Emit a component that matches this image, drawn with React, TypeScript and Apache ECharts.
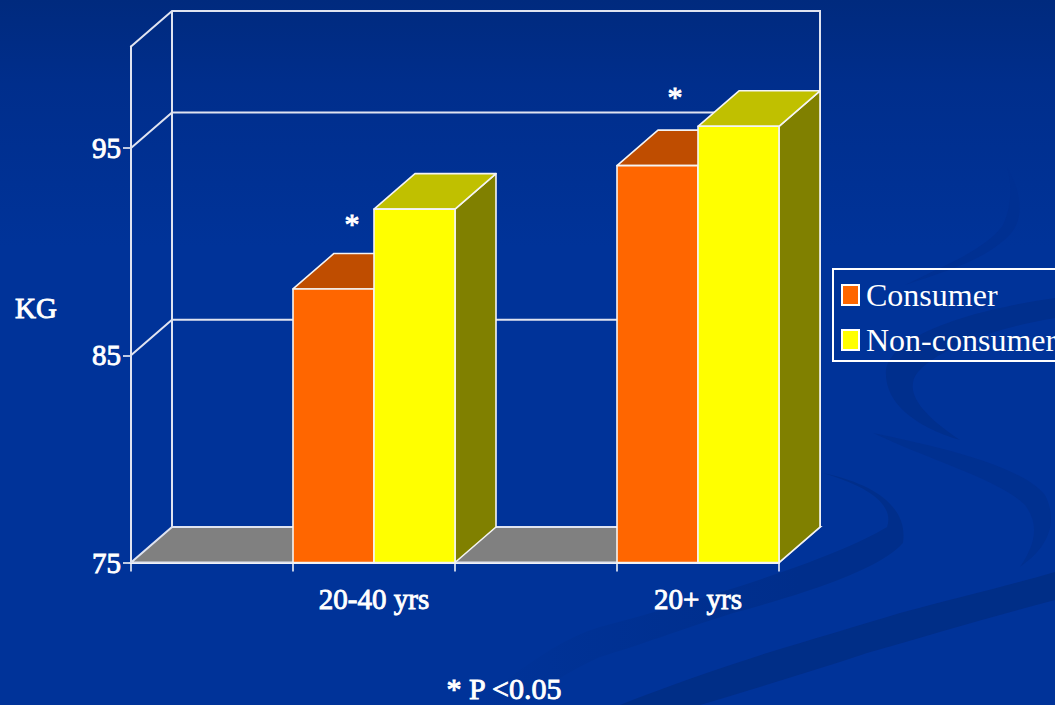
import React, { useEffect, useRef } from "react";
import * as echarts from "echarts";

const xCategories = ["", "20-40 yrs", "", "20+ yrs"];
const consumerKg = [null, 88.2, null, 94.15];
const nonConsumerKg = [null, 92.05, null, 96.05];
const yTicks = [75, 85, 95];
const seriesNames = ["Consumer", "Non-consumer"];

const yMin = 75;
const yMax = 99.9;
const depthX = 41;
const depthY = -35.5;

const ink = "#ffffff";
const wallLine = "#dfe3f0";
const serif = "Liberation Serif";

// Decorative ribbons of the slide background.
const ribbons = [
  "M 470 705 C 510 680 550 642 600 627 C 700 600 833 560 887 527 C 893 510 880 490 823 473 C 880 485 908 510 903 543 C 880 570 800 595 733 613 C 680 630 640 645 600 657 C 570 670 540 690 520 705 Z",
  "M 620 705 C 670 685 720 668 767 653 C 810 640 860 625 900 613 C 960 597 1010 585 1055 572 L 1055 600 C 990 617 930 635 867 653 C 810 672 750 690 700 705 Z",
  "M 1055 298 C 970 310 892 335 886 370 C 884 400 910 425 960 440 C 930 420 910 400 913 383 C 915 360 980 330 1055 318 Z",
  "M 873 433 C 940 447 1020 465 1045 495 C 1060 525 1045 550 1020 567 C 1035 545 1040 525 1025 505 C 1000 480 930 460 873 433 Z",
  "M 1007 167 C 1020 190 1025 215 1012 232 C 990 258 950 270 905 285 C 945 265 985 250 1003 225 C 1012 205 1012 185 1007 167 Z",
];
const ribbonFills: any[] = [
  {
    type: "linear",
    global: true,
    x: 480,
    y: 0,
    x2: 800,
    y2: 0,
    colorStops: [
      { offset: 0, color: "#003399" },
      { offset: 1, color: "#002e8b" },
    ],
  },
  "#002e87",
  "#002f8d",
  "#003090",
  "#003092",
];
ribbons.forEach((d, i) => {
  echarts.graphic.registerShape("ribbon" + i, echarts.graphic.extendPath(d, {}));
});

const points = (rows: (number | null)[]) =>
  rows.flatMap((v, i) => (v === null ? [] : [[i, v]]));

// Back wall, side wall, floor and the receding grid lines.
function renderWalls(params: any, api: any) {
  const grid = params.coordSys;
  const left = grid.x;
  const right = grid.x + grid.width;
  const floorY = api.coord([0, yMin])[1];
  const topY = api.coord([0, yMax])[1];
  const line = { stroke: wallLine, lineWidth: 2, fill: "none" };
  const children: any[] = [
    {
      type: "polygon",
      shape: {
        points: [
          [left, floorY],
          [left + depthX, floorY + depthY],
          [right + depthX, floorY + depthY],
          [right, floorY],
        ],
      },
      style: { fill: "#808080", stroke: wallLine, lineWidth: 2 },
    },
    {
      type: "polyline",
      shape: {
        points: [
          [left, topY],
          [left + depthX, topY + depthY],
          [right + depthX, topY + depthY],
          [right + depthX, floorY + depthY],
        ],
      },
      style: line,
    },
    {
      type: "line",
      shape: { x1: left + depthX, y1: topY + depthY, x2: left + depthX, y2: floorY + depthY },
      style: line,
    },
    { type: "line", shape: { x1: left, y1: topY, x2: left, y2: floorY }, style: line },
  ];
  yTicks.slice(1).forEach((tick) => {
    const y = api.coord([0, tick])[1];
    children.push({
      type: "polyline",
      shape: {
        points: [
          [left, y],
          [left + depthX, y + depthY],
          [right + depthX, y + depthY],
        ],
      },
      style: line,
    });
  });
  return { type: "group", children };
}

// One extruded column filling half of its band: front, top and right side faces.
function renderColumn(slot: number, front: string, top: string, side: string) {
  return (_params: any, api: any) => {
    const [cx, cy] = api.coord([api.value(0), api.value(1)]);
    const base = api.coord([api.value(0), yMin])[1];
    const width = api.size([1, 0])[0] / 2;
    const x0 = cx + (slot - 1) * width;
    const x1 = x0 + width;
    const edge = { stroke: "#f4f4f4", lineWidth: 1.6, lineJoin: "round" };
    return {
      type: "group",
      children: [
        {
          type: "polygon",
          shape: {
            points: [
              [x1, base],
              [x1 + depthX, base + depthY],
              [x1 + depthX, cy + depthY],
              [x1, cy],
            ],
          },
          style: { fill: side, ...edge },
        },
        {
          type: "polygon",
          shape: {
            points: [
              [x0, cy],
              [x0 + depthX, cy + depthY],
              [x1 + depthX, cy + depthY],
              [x1, cy],
            ],
          },
          style: { fill: top, ...edge },
        },
        {
          type: "rect",
          shape: { x: x0, y: cy, width, height: base - cy },
          style: { fill: front, ...edge },
        },
      ],
    };
  };
}

const caption = (text: string, x: number, y: number, size = 29) => ({
  type: "text",
  x,
  y,
  z: 10,
  style: {
    text,
    fill: ink,
    stroke: ink,
    lineWidth: 0.9,
    font: `${size}px "${serif}"`,
    textAlign: "center",
    textVerticalAlign: "middle",
  },
});

const axisText = {
  color: ink,
  fontFamily: serif,
  fontSize: 29,
  textBorderColor: ink,
  textBorderWidth: 0.9,
};

export default function App() {
  const ref = useRef<HTMLDivElement>(null);

  useEffect(() => {
    const chart = echarts.init(ref.current!, null, { renderer: "svg" });
    chart.setOption({
      animation: false,
      backgroundColor: {
        type: "linear",
        x: 0,
        y: 0,
        x2: 0,
        y2: 1,
        colorStops: [
          { offset: 0, color: "#002a7e" },
          { offset: 0.12, color: "#002e8c" },
          { offset: 0.35, color: "#003399" },
          { offset: 1, color: "#003399" },
        ],
      },
      grid: { left: 131, right: 276, top: 46.5, bottom: 142.5 },
      xAxis: {
        type: "category",
        data: xCategories,
        axisLine: { lineStyle: { color: ink, width: 2 } },
        axisTick: { show: true, interval: 0, length: 9, lineStyle: { color: ink, width: 1.5 } },
        axisLabel: { ...axisText, margin: 22, interval: 0 },
      },
      yAxis: {
        type: "value",
        min: yMin,
        max: yMax,
        splitLine: { show: false },
        axisLine: { show: true, lineStyle: { color: ink, width: 2 } },
        axisTick: {
          show: true,
          length: 8,
          customValues: yTicks,
          lineStyle: { color: ink, width: 1.5 },
        },
        axisLabel: { ...axisText, margin: 10, customValues: yTicks },
      },
      legend: {
        data: seriesNames,
        orient: "vertical",
        left: 833,
        top: 269,
        icon: "rect",
        itemWidth: 17,
        itemHeight: 20,
        itemGap: 13,
        padding: [10, 30, 5, 8],
        borderColor: ink,
        borderWidth: 2,
        itemStyle: { borderColor: ink, borderWidth: 2 },
        textStyle: {
          color: ink,
          fontFamily: serif,
          fontSize: 32,
          padding: [0, 0, 0, 2],
        },
      },
      graphic: {
        elements: [
          ...ribbons.map((_, i) => ({
            type: "ribbon" + i,
            x: 0,
            y: 0,
            z: 0,
            style: { fill: ribbonFills[i] },
          })),
          caption("KG", 36, 308),
          caption("*", 352, 223, 30),
          caption("*", 675, 96, 30),
          caption("* P <0.05", 504, 688, 30),
        ],
      },
      series: [
        {
          type: "custom",
          name: "walls",
          z: 1,
          silent: true,
          data: [[0, yMin]],
          encode: { x: 0, y: 1 },
          renderItem: renderWalls,
        },
        {
          type: "custom",
          name: seriesNames[0],
          z: 2,
          itemStyle: { color: "#ff6600" },
          data: points(consumerKg),
          encode: { x: 0, y: 1 },
          renderItem: renderColumn(0, "#ff6600", "#bf4d00", "#804000"),
        },
        {
          type: "custom",
          name: seriesNames[1],
          z: 3,
          itemStyle: { color: "#ffff00" },
          data: points(nonConsumerKg),
          encode: { x: 0, y: 1 },
          renderItem: renderColumn(1, "#ffff00", "#c0c000", "#808000"),
        },
      ],
    });
    return () => chart.dispose();
  }, []);

  return (
    <div
      ref={ref}
      style={{ position: "absolute", left: 0, top: 0, width: 1055, height: 705, overflow: "hidden" }}
    />
  );
}
